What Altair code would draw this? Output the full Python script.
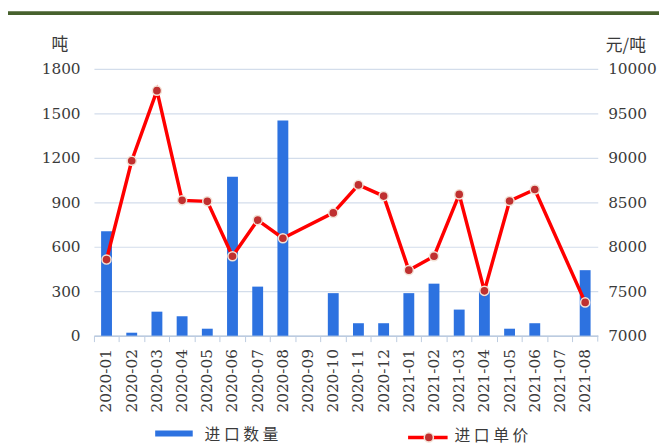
import altair as alt
import pandas as pd

months = ["2020-01", "2020-02", "2020-03", "2020-04", "2020-05", "2020-06",
          "2020-07", "2020-08", "2020-09", "2020-10", "2020-11", "2020-12",
          "2021-01", "2021-02", "2021-03", "2021-04", "2021-05", "2021-06",
          "2021-07", "2021-08"]
quantity = [705, 20, 162, 131, 47, 1073, 331, 1452, None, 287, 84, 84,
            287, 351, 176, 300, 47, 84, None, 442]
price = [7856, 8967, 9756, 8522, 8511, 7893, 8300, 8096, None, 8381, 8696, 8570,
         7737, 7893, 8589, 7504, 8515, 8644, None, 7374]
qty_ticks = [0, 300, 600, 900, 1200, 1500, 1800]
price_ticks = [7000, 7500, 8000, 8500, 9000, 9500, 10000]
qty_name = "进口数量"
price_name = "进口单价"

df = pd.DataFrame({"month": months, "quantity": quantity, "price": price})

SERIF = "DejaVu Serif"
CJK = "Noto Sans CJK SC"
TXT = "#3a3a3a"
BLUE = "#2d72e0"
RED = "#ff0000"
GRID = "#d3ddeb"

xscale = alt.Scale(domain=months, paddingInner=0, paddingOuter=0)

xenc = alt.X("month:N", sort=months, title=None, scale=xscale,
             axis=alt.Axis(labelAngle=270, labelFont=SERIF, labelFontSize=15.5,
                           labelColor=TXT, labelPadding=7, bandPosition=0,
                           tickSize=6, tickColor="#bccbe0", domainColor="#bccbe0",
                           domainWidth=1.5, grid=False))

bars = alt.Chart(df).transform_filter("isValid(datum.quantity)").mark_bar(
    size=11, color=BLUE).encode(
    x=xenc,
    y=alt.Y("quantity:Q", scale=alt.Scale(domain=[0, 1800], nice=False),
            axis=alt.Axis(values=qty_ticks, format="d", title="吨", titleAngle=0,
                          titleX=-35, titleY=-25, titleAlign="center",
                          titleBaseline="middle", titleFont=CJK, titleFontSize=17,
                          titleFontWeight="normal", titleColor=TXT, labelFont=SERIF,
                          labelFontSize=15.5, labelColor=TXT, labelPadding=14,
                          domain=False, ticks=False, grid=True, gridColor=GRID,
                          gridWidth=1.2)))

line = alt.Chart(df).transform_filter("isValid(datum.price)").mark_line(
    color=RED, strokeWidth=3.5,
    point=alt.OverlayMarkDef(filled=True, fill="#bf3030", stroke="#f3e2d6",
                             strokeWidth=1.5, size=85, opacity=1)).encode(
    x=alt.X("month:N", sort=months, scale=xscale),
    y=alt.Y("price:Q", scale=alt.Scale(domain=[7000, 10000], nice=False),
            axis=alt.Axis(orient="right", values=price_ticks, format="d",
                          title="元/吨", titleAngle=0, titleX=28, titleY=-24,
                          titleAlign="center", titleBaseline="middle",
                          titleFont=CJK, titleFontSize=17, titleFontWeight="normal",
                          titleColor=TXT, labelFont=SERIF, labelFontSize=15.5,
                          labelColor=TXT, labelPadding=10, domain=False,
                          ticks=False, grid=False)))

one = pd.DataFrame({"a": [0]})

end_tick = alt.Chart(one).mark_rule(color="#bccbe0", strokeWidth=1).encode(
    x=alt.value(510), y=alt.value(270), y2=alt.value(276))

top_bar = alt.Chart(one).mark_rule(color="#47612d", strokeWidth=4).encode(
    x=alt.value(-87), x2=alt.value(572), y=alt.value(-56.5))

leg_rect = alt.Chart(one).mark_rect(color=BLUE).encode(
    x=alt.value(62), x2=alt.value(100), y=alt.value(366), y2=alt.value(372))
leg_text1 = alt.Chart(one).mark_text(
    text=" ".join(qty_name), font=CJK, fontSize=16, color=TXT, align="left",
    baseline="middle").encode(x=alt.value(112), y=alt.value(371))
leg_line = alt.Chart(one).mark_rule(color=RED, strokeWidth=3.5).encode(
    x=alt.value(318), x2=alt.value(358), y=alt.value(373))
leg_dot = alt.Chart(one).mark_point(filled=True, fill="#bf3030", stroke="#f3e2d6",
                                    strokeWidth=1.5, size=85, opacity=1).encode(
    x=alt.value(339), y=alt.value(373))
leg_text2 = alt.Chart(one).mark_text(
    text=" ".join(price_name), font=CJK, fontSize=16, color=TXT, align="left",
    baseline="middle").encode(x=alt.value(365), y=alt.value(372))

chart = alt.layer(
    bars, line, end_tick, top_bar, leg_rect, leg_text1, leg_line, leg_dot, leg_text2
).resolve_scale(y="independent").properties(
    width=510, height=270,
    padding={"left": 87, "top": 59, "right": 62, "bottom": 110},
    autosize=alt.AutoSizeParams(type="none"),
).configure_view(stroke=None)

chart.save("out.html", embed_options={"renderer": "svg", "actions": False})
